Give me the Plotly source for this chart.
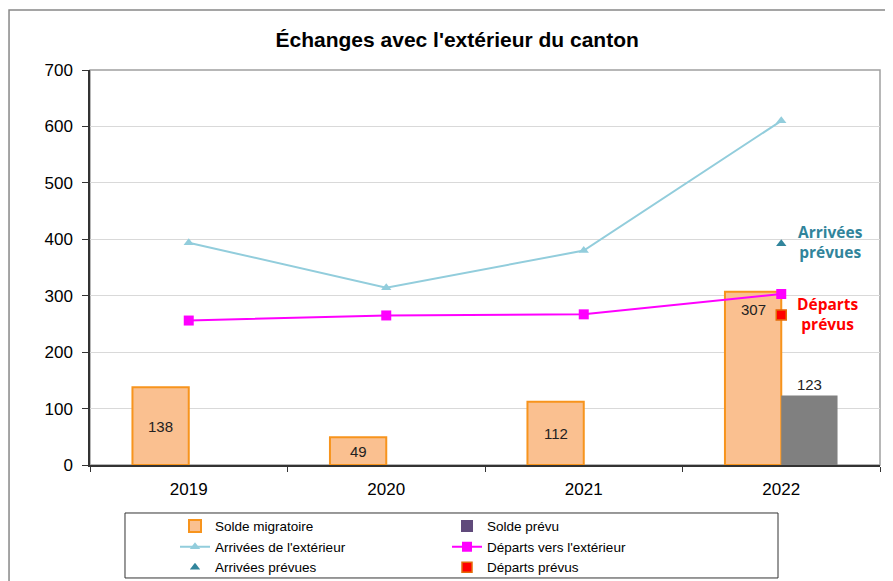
import plotly.graph_objects as go

years = ["2019", "2020", "2021", "2022"]
solde = [138, 49, 112, 307]
solde_prevu_year = ["2022"]
solde_prevu = [123]
arrivees = [394, 314, 380, 610]
departs = [256, 265, 267, 303]
arr_prev_year = ["2022"]
arr_prev = [392]
dep_prev_year = ["2022"]
dep_prev = [266]

BW = 0.285
fig = go.Figure()
fig.add_trace(go.Bar(x=years, y=solde, name="Solde migratoire", width=BW, offset=-BW,
                     marker=dict(color="#FAC090", line=dict(color="#F7941D", width=2))))
fig.add_trace(go.Bar(x=[years[0]], y=[None], name="Solde prévu",
                     marker=dict(color="#604A7B", line=dict(width=0))))
fig.add_trace(go.Bar(x=solde_prevu_year, y=solde_prevu, name="Solde prévu", width=BW, offset=0,
                     showlegend=False, marker=dict(color="#808080", line=dict(width=0)),
                     text=[str(v) for v in solde_prevu], textposition="outside",
                     textfont=dict(size=15, color="#222"), cliponaxis=False))
fig.add_trace(go.Scatter(x=years, y=arrivees, name="Arrivées de l'extérieur", mode="lines+markers",
                         line=dict(color="#92CDDC", width=2),
                         marker=dict(symbol="triangle-up", size=9, color="#92CDDC")))
fig.add_trace(go.Scatter(x=years, y=departs, name="Départs vers l'extérieur", mode="lines+markers",
                         line=dict(color="#FF00FF", width=2),
                         marker=dict(symbol="square", size=10, color="#FF00FF")))
fig.add_trace(go.Scatter(x=arr_prev_year, y=arr_prev, name="Arrivées prévues", mode="markers",
                         marker=dict(symbol="triangle-up", size=9, color="#31859C")))
fig.add_trace(go.Scatter(x=dep_prev_year, y=dep_prev, name="Départs prévus", mode="markers",
                         marker=dict(symbol="square", size=10, color="#FF0000",
                                     line=dict(color="#E46C0A", width=1.5))))

annotations = []
for i, v in enumerate(solde):
    yy = v / 2 if v < 250 else v - 32
    annotations.append(dict(x=i, y=yy, xref="x", yref="y", text=str(v), showarrow=False,
                            xshift=-28, font=dict(size=15, color="#222", family="Liberation Sans")))
annotations.append(dict(x=3, y=395, text="<b>Arrivées<br>prévues</b>", showarrow=False,
                        xanchor="left", xshift=15, align="center",
                        font=dict(size=15.5, color="#31849B", family="Open Sans")))
annotations.append(dict(x=3, y=268, text="<b>Départs<br>prévus</b>", showarrow=False,
                        xanchor="left", xshift=14, align="center",
                        font=dict(size=15.5, color="#FF0000", family="Open Sans")))

shapes = [
    dict(type="rect", xref="paper", yref="paper", x0=0, x1=1, y0=0, y1=1,
         line=dict(color="#A0A0A0", width=1.5), layer="below"),
    dict(type="rect", xref="paper", yref="paper", x0=-0.1025, x1=1.0127, y0=-0.31, y1=1.152,
         line=dict(color="#888888", width=1.5)),
    dict(type="rect", xref="paper", yref="paper", x0=0.0443, x1=0.8709, y0=-0.286, y1=-0.1215,
         line=dict(color="#333333", width=1)),
]

fig.update_layout(
    width=893, height=581,
    margin=dict(l=82, r=21, t=62, b=124, autoexpand=False),
    paper_bgcolor="white", plot_bgcolor="white",
    font=dict(family="Liberation Sans", size=17, color="black"),
    title=dict(text="<b>Échanges avec l'extérieur du canton</b>", x=0.503, xanchor="center",
               y=0.945, yanchor="middle", font=dict(size=21, family="Liberation Sans", color="black")),
    barmode="overlay",
    showlegend=True,
    legend=dict(orientation="h", x=0.1076, xanchor="left", y=-0.116, yanchor="top",
                borderwidth=0, entrywidth=227, entrywidthmode="pixels",
                bgcolor="rgba(0,0,0,0)",
                font=dict(size=13.5, family="Liberation Sans", color="black"),
                traceorder="normal", tracegroupgap=0),
    annotations=annotations,
    shapes=shapes,
    xaxis=dict(type="category", categoryorder="array", categoryarray=years,
               range=[-0.5, 3.5], showline=True, linecolor="#333", linewidth=1.5,
               ticks="outside", tickson="boundaries", ticklen=5, tickcolor="#333",
               showgrid=False, tickfont=dict(size=17), tickangle=0, ticklabelstandoff=8,
               automargin=False),
    yaxis=dict(range=[0, 700], dtick=100, showline=True, linecolor="#333", linewidth=1.5,
               ticks="outside", ticklen=6, tickcolor="#333", gridcolor="#D9D9D9",
               gridwidth=1, zeroline=False, tickfont=dict(size=17), ticklabelstandoff=6,
               automargin=False),
)
fig.write_html("out.html")
